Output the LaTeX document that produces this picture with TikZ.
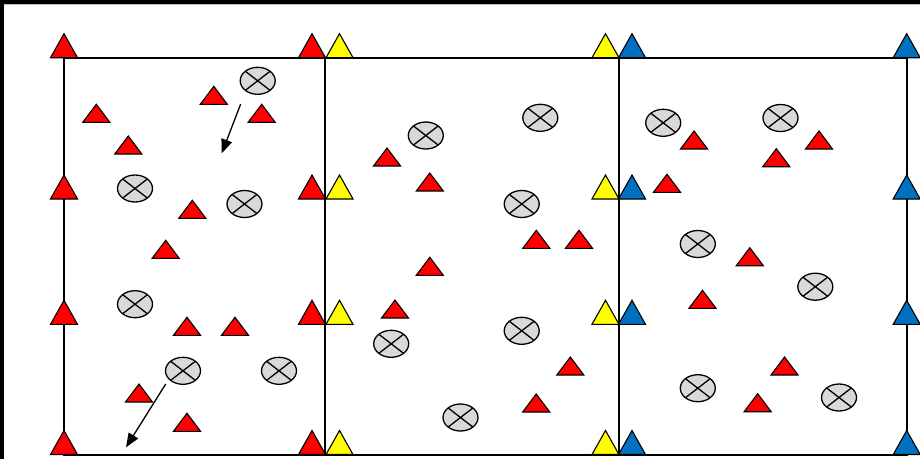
\documentclass[tikz,border=0pt]{standalone}
\usetikzlibrary{shapes.geometric,arrows.meta}
\definecolor{conered}{HTML}{FF0000}
\definecolor{coneyellow}{HTML}{FFFF00}
\definecolor{coneblue}{HTML}{0070C0}
\definecolor{ballgray}{HTML}{D9D9D9}

\begin{document}
\begin{tikzpicture}[x=1pt,y=-1pt,
  cone/.style={draw=black,line width=1.1pt,line join=miter},
  pics/bigcone/.style={code={\draw[cone,fill=#1] (-13.5,0) -- (0,-24) -- (13.5,0) -- cycle;}},
  pics/smallcone/.style={code={\draw[cone,fill=conered] (-13.5,0) -- (0,-18) -- (13.5,0) -- cycle;}},
  ball/.style={ellipse,draw=black,line width=1.3pt,fill=ballgray,minimum width=35pt,
    minimum height=27pt,inner sep=0pt,
    path picture={\draw[line width=1.3pt] (path picture bounding box.north west) -- (path picture bounding box.south east)
      (path picture bounding box.north east) -- (path picture bounding box.south west);}},
  run/.style={line width=1.3pt,-{Triangle[length=14pt,width=11pt]}}]
  \useasboundingbox (0,0) rectangle (920,459);
  \fill[black] (0,0) rectangle (920,4);
  \fill[black] (0,0) rectangle (3.5,459);
  \draw[gray!50,line width=1pt] (3.5,4.8) -- (920,4.8);
  %
  \draw[line width=2pt] (64,57.7) rectangle (906.7,454.5);
  \draw[line width=2pt] (325.3,57.7) -- (325.3,454.5);
  \draw[line width=2pt] (619,57.7) -- (619,454.5);
  %
  \foreach \y in {57.7,199,324.3,454.5} {
    \pic at (64,\y) {bigcone=conered};
    \pic at (312,\y) {bigcone=conered};
    \pic at (339.5,\y) {bigcone=coneyellow};
    \pic at (605.5,\y) {bigcone=coneyellow};
    \pic at (632,\y) {bigcone=coneblue};
    \pic at (906.7,\y) {bigcone=coneblue};
  }
  %
  \foreach \x/\y in {96.3/122.3,213.8/104.3,261.7/122.3,128.3/154,192.3/218.3,
      165.7/258.3,187/335.3,235/335.3,139/402,187/431.3,
      387/166,429.8/191,536.3/248.3,579/248.3,429.8/275.3,395/318,570.3/375,536.2/412,
      694/149,819/149,776.3/166.7,667/192.3,749.8/265.7,702.5/308.3,784.5/375,757.7/411.7}
    \pic at (\x,\y) {smallcone};
  %
  \foreach \x/\y [count=\i] in {257.7/80.8,135/188.5,244.5/204,135/304.2,183/370.8,279/370.8,
      425.8/135.5,540.3/117.8,521.7/204,391.2/343.8,521.7/330.8,460.5/417.5,
      663.2/122.8,780.5/118,697.8/244,815.3/286.7,697.8/388.2,839/397.5}
    \node[ball] (ball\i) at (\x,\y) {};
  %
  \coordinate (run1a) at (240.7,104);
  \coordinate (run1b) at (221.7,153.3);
  \draw[run] (run1a) -- (run1b);
  \coordinate (run2a) at (165.7,384);
  \coordinate (run2b) at (126,447.3);
  \draw[run] (run2a) -- (run2b);
  %
\end{tikzpicture}
\end{document}
